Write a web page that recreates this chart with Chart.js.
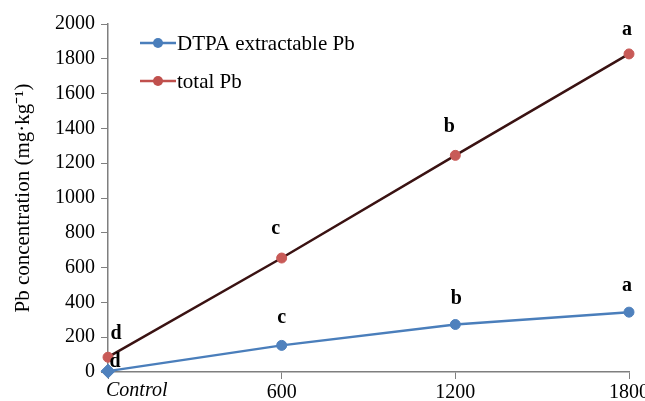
<!DOCTYPE html>
<html><head><meta charset="utf-8">
<script src="https://cdn.jsdelivr.net/npm/chart.js@4"></script>
<style>html,body{margin:0;padding:0;background:#fff}#w{width:645px;height:401px}</style>
</head><body><div id="w"><canvas id="c" width="645" height="401"></canvas></div>
<script>
const categories = ["Control", "600", "1200", "1800"];
const dtpaPb = [5, 153, 273, 344];
const totalPb = [85, 655, 1245, 1828];
const dtpaLetters = ["d", "c", "b", "a"];
const totalLetters = ["d", "c", "b", "a"];
const yTicks = [0, 200, 400, 600, 800, 1000, 1200, 1400, 1600, 1800, 2000];

const serif = "'Liberation Serif', 'Times New Roman', serif";

const letterPlugin = {
  id: 'letters',
  afterDatasetsDraw(chart, args, opts) {
    const ctx = chart.ctx;
    ctx.save();
    ctx.font = "bold 20px " + serif;
    ctx.fillStyle = '#000';
    ctx.textAlign = 'center';
    ctx.textBaseline = 'alphabetic';
    const sets = [[0, dtpaLetters], [1, totalLetters]];
    sets.forEach(([di, letters]) => {
      const meta = chart.getDatasetMeta(di);
      const offs = opts.offsets[di];
      meta.data.forEach((pt, i) => {
        ctx.fillText(letters[i], pt.x + offs[i][0], pt.y + offs[i][1]);
      });
    });
    ctx.restore();
  }
};

const firstLabelPlugin = {
  id: 'firstLabel',
  afterDraw(chart) {
    const s = chart.scales.x;
    const ctx = chart.ctx;
    ctx.save();
    ctx.font = "italic 20px " + serif;
    ctx.fillStyle = '#000';
    ctx.textAlign = 'left';
    ctx.textBaseline = 'top';
    ctx.fillText(categories[0], s.getPixelForTick(0) - 2, s.top + 9);
    ctx.restore();
  }
};

const legendPlugin = {
  id: 'customLegend',
  afterDraw(chart) {
    const ctx = chart.ctx;
    ctx.save();
    ctx.font = "21px " + serif;
    ctx.textBaseline = 'middle';
    ctx.textAlign = 'left';
    const items = chart.data.datasets.map(d => [d.label, d.legendColor]);
    items.forEach(([label, color], i) => {
      const y = 43 + i * 38;
      ctx.strokeStyle = color; ctx.lineWidth = 2.5;
      ctx.beginPath(); ctx.moveTo(140, y); ctx.lineTo(176, y); ctx.stroke();
      ctx.fillStyle = color;
      ctx.beginPath(); ctx.arc(158, y, 5, 0, Math.PI * 2); ctx.fill();
      ctx.fillStyle = '#000';
      ctx.fillText(label, 177, y + 1);
    });
    ctx.restore();
  }
};

new Chart(document.getElementById('c'), {
  type: 'line',
  data: {
    labels: categories,
    datasets: [
      { label: 'DTPA extractable Pb', data: dtpaPb, borderColor: '#4a7ebb', legendColor: '#4a7ebb',
        backgroundColor: '#4f81bd', pointBackgroundColor: '#4f81bd', pointBorderColor: '#4f81bd',
        pointStyle: (c) => c.dataIndex === 0 ? 'rectRot' : 'circle',
        pointRadius: (c) => c.dataIndex === 0 ? 7 : 5,
        borderWidth: 2.5, pointBorderWidth: 1, tension: 0, clip: false },
      { label: 'total Pb', data: totalPb, borderColor: '#3a1212', legendColor: '#c0504d',
        backgroundColor: '#c0504d', pointBackgroundColor: '#c85a57', pointBorderColor: '#c85a57',
        borderWidth: 2.5, pointRadius: 5, pointBorderWidth: 1, tension: 0, clip: false }
    ]
  },
  options: {
    responsive: false, animation: false,
    layout: { padding: { top: 24, right: 0, left: 11, bottom: 0 } },
    plugins: {
      legend: { display: false }, tooltip: { enabled: false },
      letters: { offsets: [
        [[7, -4], [0, -22], [1, -20], [-2, -21]],
        [[8, -18], [-6, -24], [-6, -23], [-2, -19]]
      ] }
    },
    scales: {
      x: {
        offset: false,
        grid: { drawOnChartArea: false, drawTicks: true, tickLength: 7, color: '#7f7f7f' },
        border: { display: true, color: '#7f7f7f', width: 1.5 },
        ticks: { color: '#000', padding: 2, maxRotation: 0, autoSkip: false,
          callback: (v, i) => i === 0 ? '' : categories[i],
          font: { family: serif, size: 20 } },
        afterFit(s) { s.height = 29; s.paddingRight = 16; s.paddingLeft = 0; }
      },
      y: {
        min: 0, max: 2000,
        afterBuildTicks(s) { s.ticks = yTicks.map(v => ({ value: v })); },
        grid: { drawOnChartArea: false, drawTicks: true, tickLength: 7, color: '#7f7f7f' },
        border: { display: true, color: '#7f7f7f', width: 1.5 },
        ticks: { color: '#000', padding: 6, font: { family: serif, size: 20 },
          callback: (v) => String(v) },
        title: { display: true, text: 'Pb concentration (mg·kg⁻¹)', color: '#000',
          font: { family: serif, size: 21 }, padding: { top: 0, bottom: 4 } },
        afterFit(s) { s.width = 97; }
      }
    }
  },
  plugins: [letterPlugin, legendPlugin, firstLabelPlugin]
});
</script></body></html>
